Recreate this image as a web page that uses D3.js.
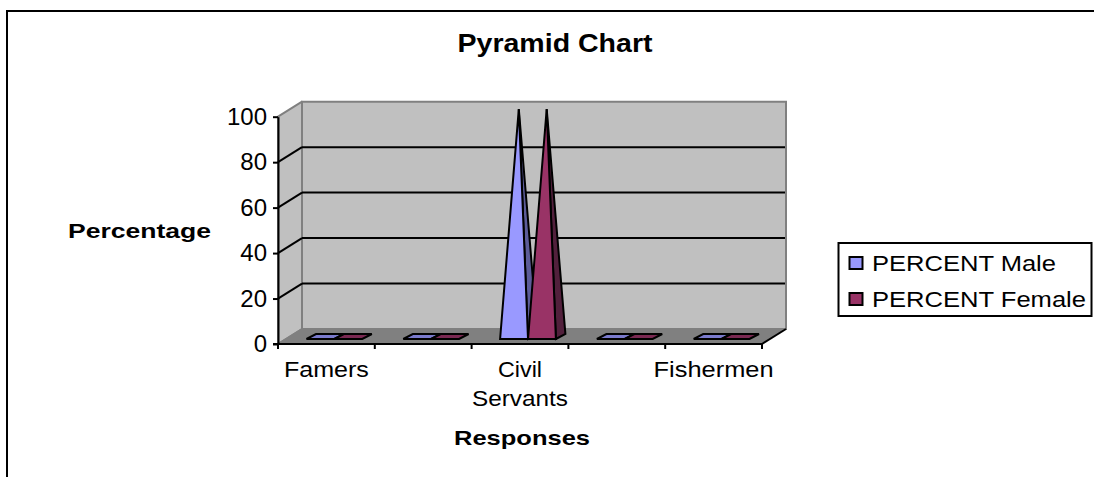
<!DOCTYPE html>
<html lang="en">
<head>
	<title>Pyramid Chart</title>
	<script src="https://d3js.org/d3.v7.min.js" charset="utf-8"></script>
	<style>
		html, body { margin: 0; padding: 0; background: #fff; overflow: hidden; }
		text { font-family: "Liberation Sans", Arial, sans-serif; fill: #000; }
	</style>
</head>
<body>
	<script>
		// values
		var categories = ["Famers", "Group 2", "Civil Servants", "Group 4", "Fishermen"];
		var tickLabels = [["Famers"], [], ["Civil", "Servants"], [], ["Fishermen"]];
		var tickLabelWidths = [[85], [], [44, 96], [], [120]];
		var seriesNames = ["PERCENT Male", "PERCENT Female"];
		var legendWidths = [184, 214];
		var maleValues = [0, 0, 100, 0, 0];
		var femaleValues = [0, 0, 100, 0, 0];
		var yTicks = [0, 20, 40, 60, 80, 100];

		var svgWidth = 1094,
			svgHeight = 477,
			plot = {left: 278, right: 762, bottom: 344, top: 116.7},
			depth = {x: 24, y: -15}, // shift from the front edge of the floor to the back wall
			baseFront = {x: 8, y: -5}, // front edge of a pyramid's base
			baseDepth = {x: 9.5, y: -5}; // front to back of a pyramid's base

		var colors = {
			wall: "#c0c0c0", floor: "#808080",
			front: ["#9999ff", "#993366"],
			side: ["#5c5c99", "#52203c"],
			flat: ["#7a7acc", "#7a2952"]
		};

		// the original text is stretched wider than the font, so pin the width
		function fit(sel, w) {
			return sel.attr("textLength", w).attr("lengthAdjust", "spacingAndGlyphs");
		}

		var svg = d3.select("body").append("svg")
			.attr("width", svgWidth)
			.attr("height", svgHeight)
			.style("display", "block");

		// outer frame, cut by the page on the right and bottom
		svg.append("path")
			.attr("d", "M7,477V11H1094")
			.attr("fill", "none")
			.attr("stroke", "#000")
			.attr("stroke-width", 2);

		var x = d3.scaleBand()
			.domain(categories)
			.range([plot.left, plot.right]);

		var x1 = d3.scaleBand()
			.domain(seriesNames)
			.range([20.5, x.bandwidth() - 20.5]);

		var y = d3.scaleLinear()
			.domain([0, 100])
			.range([plot.bottom, plot.top]);

		var line = d3.line();

		// side wall, back wall and floor
		var walls = svg.append("g").attr("stroke", "#808080").attr("stroke-width", 2);
		walls.append("path")
			.attr("fill", colors.wall)
			.attr("stroke-linejoin", "round")
			.attr("d", line([[plot.left, y(0)], [plot.left, y(100)], [plot.left + depth.x, y(100) + depth.y], [plot.left + depth.x, y(0) + depth.y]]) + "Z");
		walls.append("path")
			.attr("fill", colors.wall)
			.attr("d", line([[plot.left + depth.x, y(0) + depth.y], [plot.left + depth.x, y(100) + depth.y], [plot.right + depth.x, y(100) + depth.y], [plot.right + depth.x, y(0) + depth.y]]) + "Z");
		walls.append("path")
			.attr("fill", colors.floor)
			.attr("stroke", "none")
			.attr("d", line([[plot.left, y(0)], [plot.right, y(0)], [plot.right + depth.x, y(0) + depth.y], [plot.left + depth.x, y(0) + depth.y]]) + "Z");

		// gridlines: along the back wall, down the side wall
		var grid = svg.append("g").attr("stroke", "#000").attr("stroke-width", 2).attr("fill", "none");
		grid.selectAll(".back")
			.data(yTicks.slice(1, -1))
			.enter().append("line")
			.attr("x1", plot.left + depth.x)
			.attr("x2", plot.right + depth.x - 1)
			.attr("y1", function(d) { return y(d) + depth.y; })
			.attr("y2", function(d) { return y(d) + depth.y; });
		grid.selectAll(".wall")
			.data(yTicks.slice(1, -1))
			.enter().append("line")
			.attr("x1", plot.left)
			.attr("x2", plot.left + depth.x)
			.attr("y1", function(d) { return y(d); })
			.attr("y2", function(d) { return y(d) + depth.y; });
		// floor front edges
		grid.append("path")
			.attr("d", line([[plot.left, y(0)], [plot.left + depth.x, y(0) + depth.y]]))
			.attr("stroke", "#808080");
		grid.append("path")
			.attr("d", line([[plot.right, y(0)], [plot.right + depth.x, y(0) + depth.y]]));

		// pyramids
		var rows = [];
		categories.forEach(function(c, i) {
			rows.push({cat: c, key: seriesNames[0], s: 0, value: maleValues[i]});
			rows.push({cat: c, key: seriesNames[1], s: 1, value: femaleValues[i]});
		});

		var pyramids = svg.append("g")
			.attr("stroke", "#000")
			.attr("stroke-width", 2)
			.attr("stroke-linejoin", "miter")
			.selectAll("g")
			.data(rows)
			.enter().append("g");

		pyramids.each(function(d) {
			var g = d3.select(this),
				x0 = x(d.cat) + x1(d.key) + baseFront.x,
				x2 = x0 + x1.bandwidth(),
				yb = y(0) + baseFront.y,
				yc = y(0) + baseFront.y + baseDepth.y,
				apex = [(x0 + x2 + baseDepth.x) / 2, y(d.value) + baseFront.y + baseDepth.y / 2];

			if (d.value === 0) {
				g.append("path")
					.attr("fill", colors.flat[d.s])
					.attr("d", line([[x0, yb], [x2, yb], [x2 + baseDepth.x, yc], [x0 + baseDepth.x, yc]]) + "Z");
				return;
			}
			g.append("path")
				.attr("fill", colors.side[d.s])
				.attr("d", line([[x2, yb], [x2 + baseDepth.x, yc], apex]) + "Z");
			g.append("path")
				.attr("fill", colors.front[d.s])
				.attr("d", line([[x0, yb], [x2, yb], apex]) + "Z");
		});

		// axes
		var yAxis = svg.append("g")
			.attr("transform", "translate(" + plot.left + ",0)")
			.call(d3.axisLeft(y).tickValues(yTicks).tickSize(5).tickSizeOuter(0).tickPadding(6));
		yAxis.select(".domain").attr("stroke-width", 2);
		yAxis.selectAll("line").attr("stroke-width", 2);
		yAxis.selectAll("text")
			.style("font-size", "24px");

		var xAxis = svg.append("g")
			.attr("transform", "translate(0," + plot.bottom + ")")
			.call(d3.axisBottom(x).tickSize(0).tickFormat(""));
		xAxis.select(".domain").remove();
		xAxis.append("line")
			.attr("x1", plot.left - 5).attr("x2", plot.right)
			.attr("stroke", "#000").attr("stroke-width", 2);

		// x ticks sit between the categories, labels under the middle of each
		xAxis.selectAll(".edge")
			.data(categories.concat([null]))
			.enter().append("line")
			.attr("x1", function(d) { return d === null ? plot.right : x(d); })
			.attr("x2", function(d) { return d === null ? plot.right : x(d); })
			.attr("y2", 5)
			.attr("stroke", "#000").attr("stroke-width", 2);

		xAxis.selectAll(".tick").each(function(d, i) {
			var t = d3.select(this).select("text")
				.attr("dy", null)
				.attr("fill", "#000")
				.style("font-size", "22.5px");
			tickLabels[i].forEach(function(s, j) {
				t.append("tspan")
					.attr("x", 0)
					.attr("y", 33 + j * 29)
					.attr("textLength", tickLabelWidths[i][j])
					.attr("lengthAdjust", "spacingAndGlyphs")
					.text(s);
			});
		});

		// titles
		fit(svg.append("text")
			.attr("x", 555).attr("y", 52)
			.attr("text-anchor", "middle")
			.style("font-size", "25px").style("font-weight", "bold")
			.text("Pyramid Chart"), 195);
		fit(svg.append("text")
			.attr("x", 139.5).attr("y", 238)
			.attr("text-anchor", "middle")
			.style("font-size", "21px").style("font-weight", "bold")
			.text("Percentage"), 143);
		fit(svg.append("text")
			.attr("x", 522).attr("y", 445)
			.attr("text-anchor", "middle")
			.style("font-size", "21px").style("font-weight", "bold")
			.text("Responses"), 136);

		// legend
		var legend = svg.append("g");
		legend.append("rect")
			.attr("x", 838.5).attr("y", 243)
			.attr("width", 253).attr("height", 73)
			.attr("fill", "#fff").attr("stroke", "#000").attr("stroke-width", 2);

		var legendItem = legend.selectAll(".item")
			.data(seriesNames)
			.enter().append("g")
			.attr("transform", function(d, i) { return "translate(0," + (263 + i * 36) + ")"; });
		legendItem.append("rect")
			.attr("x", 849.5).attr("y", -6)
			.attr("width", 13).attr("height", 12)
			.attr("fill", function(d, i) { return colors.front[i]; })
			.attr("stroke", "#000").attr("stroke-width", 2);
		legendItem.append("text")
			.attr("x", 872).attr("y", 8)
			.style("font-size", "22px")
			.attr("textLength", function(d, i) { return legendWidths[i]; })
			.attr("lengthAdjust", "spacingAndGlyphs")
			.text(function(d) { return d; });
	</script>
</body>
</html>
